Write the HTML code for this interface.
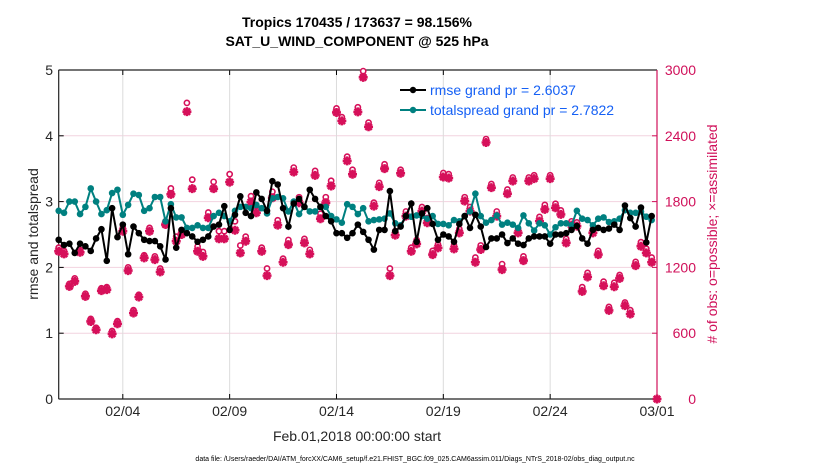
<!DOCTYPE html>
<html><head><meta charset="utf-8"><style>
html,body{margin:0;padding:0;background:#fff;}
svg{display:block;font-family:"Liberation Sans",sans-serif;}
</style></head><body>
<svg id="chart" width="830" height="470" viewBox="0 0 830 470">
<text x="357" y="27" text-anchor="middle" font-size="14" font-weight="bold">Tropics 170435 / 173637 = 98.156%</text>
<text x="357" y="46" text-anchor="middle" font-size="14" font-weight="bold">SAT_U_WIND_COMPONENT @ 525 hPa</text>
<g id="grid"></g>
<g id="axes"></g>
<g id="obs"></g>
<g id="lines"></g>
<g>
<g>
<line x1="400" y1="90" x2="426" y2="90" stroke="#000" stroke-width="2"/><circle cx="413" cy="90" r="3.2" fill="#000"/>
<text x="430" y="95" font-size="14" fill="#1560f5">rmse grand pr = 2.6037</text></g>
<g>
<line x1="400" y1="110" x2="426" y2="110" stroke="#008080" stroke-width="2"/><circle cx="413" cy="110" r="3.2" fill="#008080"/>
<text x="430" y="115" font-size="14" fill="#1560f5">totalspread grand pr = 2.7822</text></g>
</g>
<text transform="translate(38,234) rotate(-90)" text-anchor="middle" font-size="14" fill="#262626">rmse and totalspread</text>
<text transform="translate(717,234) rotate(-90)" text-anchor="middle" font-size="14" fill="#d0105a"># of obs: o=possible; ×=assimilated</text>
<text x="357" y="441" text-anchor="middle" font-size="14" fill="#262626">Feb.01,2018 00:00:00 start</text>
<text x="415" y="461" text-anchor="middle" font-size="7">data file: /Users/raeder/DAI/ATM_forcXX/CAM6_setup/f.e21.FHIST_BGC.f09_025.CAM6assim.011/Diags_NTrS_2018-02/obs_diag_output.nc</text>
</svg>
<script>
const xTickLabels = ["02/04","02/09","02/14","02/19","02/24","03/01"];
const xTickDays = [3,8,13,18,23,28];
const leftTicks = [0,1,2,3,4,5];
const rightTicks = [0,600,1200,1800,2400,3000];
const rmse = [2.42,2.34,2.36,2.22,2.36,2.32,2.25,2.44,2.58,2.10,2.9,2.46,2.65,2.2,2.62,2.52,2.42,2.4,2.4,2.32,2.12,2.9,2.3,2.57,2.52,2.47,2.39,2.42,2.47,2.62,2.65,2.93,2.57,2.8,3.08,2.83,2.78,3.14,3.04,2.86,3.31,3.26,2.9,2.62,2.97,3.04,2.92,3.18,3.04,2.92,2.78,2.7,2.52,2.52,2.45,2.52,2.65,2.54,2.42,2.27,2.57,2.57,3.16,2.55,2.62,2.78,2.97,2.39,2.82,2.9,2.66,2.42,2.5,2.47,2.39,2.66,2.78,2.6,2.8,2.62,2.31,2.44,2.44,2.5,2.37,2.44,2.36,2.34,2.44,2.47,2.47,2.47,2.36,2.5,2.5,2.52,2.57,2.63,2.44,2.36,2.57,2.6,2.57,2.59,2.65,2.57,2.94,2.75,2.62,2.91,2.38,2.78];
const spread = [2.86,2.83,3.0,3.0,2.81,2.92,3.2,3.0,2.81,2.87,3.13,3.18,2.8,2.95,3.12,3.1,2.86,2.9,3.07,3.07,2.7,2.96,2.76,2.76,2.6,2.6,2.64,2.6,2.6,2.78,2.83,2.78,2.7,2.86,2.92,2.92,2.9,2.95,2.9,2.82,3.05,3.07,3.05,2.85,3.0,2.81,2.92,2.85,2.85,2.92,2.92,2.78,2.73,2.68,2.96,2.92,2.81,2.9,2.7,2.72,2.73,2.74,2.82,2.67,2.64,2.78,2.77,2.79,2.78,2.74,2.78,2.66,2.66,2.64,2.72,2.7,2.78,2.85,3.12,2.78,2.68,2.72,2.79,2.65,2.68,2.65,2.6,2.79,2.67,2.56,2.67,2.64,2.5,2.61,2.67,2.67,2.64,2.86,2.74,2.72,2.64,2.74,2.76,2.69,2.7,2.74,2.87,2.83,2.83,2.85,2.77,2.72];
const assimilated = [1347,1323,1027,1073,1338,936,707,631,988,997,594,686,1530,1171,784,930,1287,1530,1271,1159,1591,1866,1439,1500,2620,1918,1347,1301,1653,1918,1461,1461,1978,1539,1332,1439,1796,1698,1347,1125,1835,1585,1247,1408,2070,1790,1424,1323,2039,1644,1790,1942,2613,2536,2171,2049,2618,2933,2482,1759,1936,2101,1125,1494,2058,1667,1347,1415,1713,1607,1317,1378,2024,2015,1369,1515,1805,1713,1247,1363,2339,1927,1667,1180,1872,1988,1515,1262,1988,2009,1622,1729,2009,1744,1683,1424,1585,1576,981,1113,1515,1317,1033,808,1024,1100,851,775,1216,1393,1332,1247,0];
const possible = [1380,1350,1050,1100,1360,960,730,650,1010,1020,620,710,1560,1200,810,950,1310,1560,1300,1190,1620,1920,1480,1540,2700,2000,1390,1340,1700,1980,1530,1530,2050,1620,1400,1480,1850,1760,1380,1190,1890,1630,1280,1450,2110,1840,1460,1360,2080,1690,1840,1990,2650,2570,2210,2090,2660,2990,2520,1790,1970,2140,1190,1530,2090,1710,1380,1450,1750,1650,1350,1410,2060,2050,1400,1550,1840,1750,1290,1400,2370,1960,1710,1230,1910,2020,1550,1300,2020,2040,1660,1770,2040,1780,1720,1460,1620,1610,1020,1150,1550,1350,1070,840,1060,1130,880,810,1250,1430,1370,1290,0];

const NS = "http://www.w3.org/2000/svg";
const L = 58.7, R = 657, T = 70, B = 399;
const dayPx = (R - L) / 28;
const xOfDay = d => L + d * dayPx;
const xOfIdx = i => xOfDay(i * 0.25);
const yLeft = v => B - (v / 5) * (B - T);
const yRight = v => B - (v / 3000) * (B - T);
function mk(tag, attrs, parent) {
  const e = document.createElementNS(NS, tag);
  for (const k in attrs) e.setAttribute(k, attrs[k]);
  parent.appendChild(e);
  return e;
}
const grid = document.getElementById('grid');
const axes = document.getElementById('axes');
rightTicks.forEach((t, i) => {
  if (i === 0 || i === rightTicks.length - 1) return;
  const g = mk('line', {x1: L, x2: R, y1: yRight(t), y2: yRight(t), stroke: '#f2d3df', 'stroke-width': 1}, grid);
  
  
});
xTickDays.forEach((d, i) => {
  if (d < 28) {
    const g = mk('line', {x1: xOfDay(d), x2: xOfDay(d), y1: T, y2: B, stroke: '#dcdcdc', 'stroke-width': 1}, grid);
    
    
  }
  mk('line', {x1: xOfDay(d), x2: xOfDay(d), y1: B, y2: B - 5, stroke: '#000'}, axes);
  mk('line', {x1: xOfDay(d), x2: xOfDay(d), y1: T, y2: T + 5, stroke: '#000'}, axes);
  const t = mk('text', {x: xOfDay(d), y: 416, 'text-anchor': 'middle', 'font-size': 14, fill: '#262626'}, axes);
  t.textContent = xTickLabels[i];
  
  
});
leftTicks.forEach(v => {
  mk('line', {x1: L, x2: L + 5, y1: yLeft(v), y2: yLeft(v), stroke: '#000'}, axes);
  const t = mk('text', {x: 53, y: yLeft(v) + 5, 'text-anchor': 'end', 'font-size': 14, fill: '#262626'}, axes);
  t.textContent = v;
  
  
});
rightTicks.forEach(v => {
  mk('line', {x1: R - 5, x2: R, y1: yRight(v), y2: yRight(v), stroke: '#d0105a'}, axes);
  const t = mk('text', {x: 696, y: yRight(v) + 5, 'text-anchor': 'end', 'font-size': 14, fill: '#d0105a'}, axes);
  t.textContent = v;
  
  
});
mk('line', {x1: L, x2: R, y1: T, y2: T, stroke: '#222', 'stroke-width': 1.2}, axes);
mk('line', {x1: L, x2: R, y1: B, y2: B, stroke: '#222', 'stroke-width': 1.2}, axes);
mk('line', {x1: L, x2: L, y1: T, y2: B, stroke: '#222', 'stroke-width': 1.2}, axes);
mk('line', {x1: R, x2: R, y1: T, y2: B, stroke: '#d0105a', 'stroke-width': 1.2}, axes);

const obs = document.getElementById('obs');
const pink = '#d6105a';
possible.forEach((v, i) => {
  const c = mk('circle', {cx: xOfIdx(i), cy: yRight(v), r: 2.6, fill: '#fff', stroke: pink, 'stroke-width': 1.6}, obs);
  
  
});
assimilated.forEach((v, i) => {
  const x = xOfIdx(i), y = yRight(v), s = 4.5;
  const g = mk('path', {d: `M${x-s},${y}H${x+s}M${x},${y-s}V${y+s}M${x-3.2},${y-3.2}L${x+3.2},${y+3.2}M${x-3.2},${y+3.2}L${x+3.2},${y-3.2}`, stroke: pink, 'stroke-width': 2.6, fill: 'none'}, obs);
  
  
});
const lines = document.getElementById('lines');
function series(arr, color, name) {
  const p = mk('polyline', {points: arr.map((v, i) => xOfIdx(i) + ',' + yLeft(v)).join(' '), fill: 'none', stroke: color, 'stroke-width': 2}, lines);
  
  
  arr.forEach((v, i) => {
    const c = mk('circle', {cx: xOfIdx(i), cy: yLeft(v), r: 3.3, fill: color}, lines);
    
    
  });
}
series(spread, '#008080', 'totalspread');
series(rmse, '#000000', 'rmse');
</script>
</body></html>
